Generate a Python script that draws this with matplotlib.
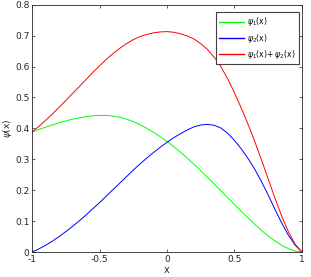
import matplotlib
matplotlib.use('Agg')
import matplotlib.pyplot as plt

x = [-1.00, -0.95, -0.90, -0.85, -0.80, -0.75, -0.70, -0.65, -0.60, -0.55, -0.50,
     -0.45, -0.40, -0.35, -0.30, -0.25, -0.20, -0.15, -0.10, -0.05, 0.00,
     0.05, 0.10, 0.15, 0.20, 0.25, 0.30, 0.35, 0.40, 0.45, 0.50,
     0.55, 0.60, 0.65, 0.70, 0.75, 0.80, 0.85, 0.90, 0.95, 1.00]
psi1 = [0.388, 0.396, 0.404, 0.411, 0.418, 0.424, 0.430, 0.434, 0.438, 0.441, 0.442,
        0.442, 0.440, 0.436, 0.430, 0.422, 0.412, 0.400, 0.387, 0.373, 0.358,
        0.341, 0.323, 0.304, 0.284, 0.263, 0.242, 0.220, 0.198, 0.176, 0.154,
        0.132, 0.111, 0.090, 0.070, 0.052, 0.036, 0.022, 0.011, 0.003, 0.000]
psi2 = [0.000, 0.010, 0.022, 0.035, 0.050, 0.066, 0.083, 0.101, 0.120, 0.140, 0.160,
        0.181, 0.202, 0.223, 0.244, 0.265, 0.285, 0.304, 0.322, 0.339, 0.355,
        0.370, 0.383, 0.395, 0.405, 0.411, 0.413, 0.410, 0.401, 0.384, 0.361,
        0.334, 0.303, 0.268, 0.228, 0.184, 0.138, 0.094, 0.054, 0.022, 0.000]
psi_sum = [0.388, 0.406, 0.426, 0.446, 0.468, 0.490, 0.513, 0.535, 0.558, 0.581, 0.602,
           0.623, 0.642, 0.659, 0.674, 0.687, 0.697, 0.704, 0.709, 0.712, 0.713,
           0.711, 0.706, 0.699, 0.689, 0.674, 0.655, 0.630, 0.599, 0.560, 0.515,
           0.466, 0.414, 0.358, 0.298, 0.236, 0.174, 0.116, 0.065, 0.025, 0.000]

xticks = [-1, -0.5, 0, 0.5, 1]
xticklabels = ['-1', '-0.5', '0', '0.5', '1']
yticks = [0, 0.1, 0.2, 0.3, 0.4, 0.5, 0.6, 0.7, 0.8]
yticklabels = ['0', '0.1', '0.2', '0.3', '0.4', '0.5', '0.6', '0.7', '0.8']

fig = plt.figure(figsize=(3.11, 2.77), dpi=100)
ax = fig.add_axes([0.103, 0.090, 0.868, 0.893])

ax.plot(x, psi1, color='#00ff00', lw=0.7, label=r'$\psi_1$(x)')
ax.plot(x, psi2, color='#0000ff', lw=0.7, label=r'$\psi_2$(x)')
ax.plot(x, psi_sum, color='#ff0000', lw=0.7, label=r'$\psi_1$(x)+ $\psi_2$(x)')

ax.set_xlim(-1, 1)
ax.set_ylim(0, 0.8)
ax.set_xticks(xticks)
ax.set_xticklabels(xticklabels)
ax.set_yticks(yticks)
ax.set_yticklabels(yticklabels)
ax.tick_params(direction='in', top=True, right=True, length=2.5, width=0.5,
               labelsize=6.5, colors='#262626', pad=2)
for s in ax.spines.values():
    s.set_linewidth(0.6)
    s.set_color('#262626')

ax.set_xlabel('x', fontsize=7, color='#262626', labelpad=1)
ax.set_ylabel(r'$\psi$(x)', fontsize=6.5, color='#262626', labelpad=0.5)

leg = ax.legend(loc='upper right', bbox_to_anchor=(0.989, 0.970), fontsize=5.5,
                fancybox=False, edgecolor='#404040', framealpha=1,
                handlelength=3.3, handletextpad=0.4, borderpad=0.4,
                labelspacing=0.45, borderaxespad=0)
leg.get_frame().set_linewidth(0.8)
for h in leg.get_lines():
    h.set_linewidth(1.0)

plt.savefig('out.png', dpi=100)
